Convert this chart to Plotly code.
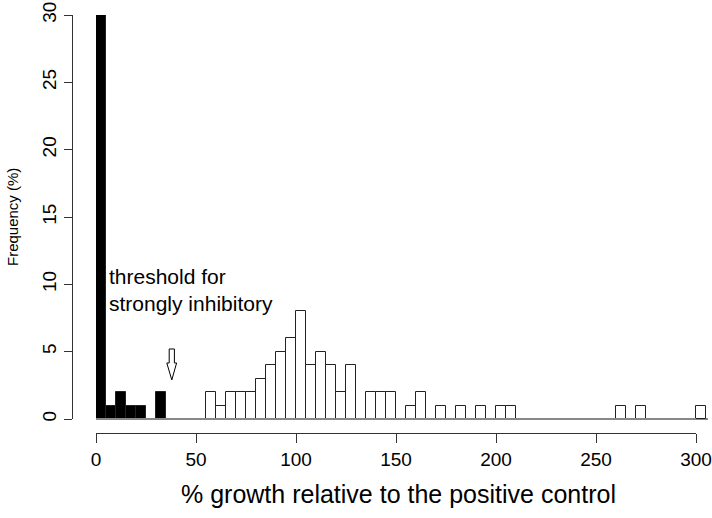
import plotly.graph_objects as go

# bin left edges (width 5) and frequencies (%)
bin_width = 5
inhib_edges = [0, 5, 10, 15, 20, 25, 30]
inhib_freq = [30, 1, 2, 1, 1, 0, 2]

other_edges = list(range(55, 305, 5))
other_freq = [2, 1, 2, 2, 2, 3, 4, 5, 6, 8,      # 55-100
              4, 5, 4, 2, 4, 0, 2, 2, 2, 0,      # 105-150
              1, 2, 0, 1, 0, 1, 0, 1, 0, 1,      # 155-200
              1, 0, 0, 0, 0, 0, 0, 0, 0, 0,      # 205-250
              0, 1, 0, 1, 0, 0, 0, 0, 0, 1]      # 255-300

x_ticks = [0, 50, 100, 150, 200, 250, 300]
y_ticks = [0, 5, 10, 15, 20, 25, 30]

FONT = "Liberation Sans Narrow, Arial Narrow, Liberation Sans, Arial, sans-serif"

fig = go.Figure()
fig.add_trace(go.Bar(
    x=[e + bin_width / 2 for e in inhib_edges], y=inhib_freq, width=bin_width,
    marker=dict(color="black", line=dict(color="#222", width=1)),
    showlegend=False, hoverinfo="skip"))
fig.add_trace(go.Bar(
    x=[e + bin_width / 2 for e in other_edges], y=other_freq, width=bin_width,
    marker=dict(color="white", line=dict(color="#222", width=1)),
    showlegend=False, hoverinfo="skip"))
# invisible trace to carry the separate bottom axis
fig.add_trace(go.Scatter(x=[0, 300], y=[0, 0], xaxis="x2", yaxis="y",
                         mode="markers", marker=dict(opacity=0),
                         showlegend=False, hoverinfo="skip"))

W = 640.0
H = 418.0
fig.update_layout(
    width=712, height=518,
    margin=dict(l=72, r=0, t=15, b=85, autoexpand=False),
    plot_bgcolor="rgba(0,0,0,0)", paper_bgcolor="white",
    bargap=0,
    font=dict(family=FONT, color="black"),
    xaxis=dict(domain=[24 / W, 636 / W], range=[0, 306],
               showline=False, showgrid=False, zeroline=False,
               showticklabels=False, ticks="", automargin=False),
    xaxis2=dict(domain=[24 / W, 624 / W], range=[0, 300], anchor="free",
                position=0, side="bottom",
                showline=True, linecolor="#333", linewidth=1,
                ticks="outside", ticklen=9, tickcolor="#333",
                tickvals=x_ticks, showgrid=False, zeroline=False,
                automargin=False, ticklabeloverflow="allow",
                tickfont=dict(size=19, family=FONT)),
    yaxis=dict(domain=[14 / H, 1], range=[0, 30], anchor="free", position=0,
               showline=True, linecolor="#333", linewidth=1,
               ticks="outside", ticklen=8, tickcolor="#333",
               tickvals=y_ticks, tickangle=-90, showgrid=False,
               zeroline=True, zerolinecolor="#888", zerolinewidth=2,
               automargin=False, ticklabeloverflow="allow",
               tickfont=dict(size=19, family=FONT)),
    annotations=[
        dict(x=5.5, y=11.6, xref="x", yref="y", text="threshold for<br>strongly inhibitory",
             showarrow=False, xanchor="left", yanchor="top", align="left",
             font=dict(size=21, family=FONT)),
        dict(x=(398 - 72) / W, y=-(494 - 433) / H, xref="paper", yref="paper",
             text="% growth relative to the positive control",
             showarrow=False, xanchor="center", yanchor="middle",
             font=dict(size=25, family=FONT)),
        dict(x=(12 - 72) / W, y=(433 - 217) / H, xref="paper", yref="paper",
             text="Frequency (%)",
             showarrow=False, textangle=-90, xanchor="center", yanchor="middle",
             font=dict(size=15, family=FONT)),
    ],
    shapes=[
        dict(type="path", xref="x", yref="y",
             path="M 36.6 5.2 L 39.2 5.2 L 39.2 4.16 L 40.3 4.16 L 37.9 2.9 "
                  "L 35.4 4.16 L 36.6 4.16 Z",
             line=dict(color="black", width=1), fillcolor="white"),
    ],
)

fig.write_html("out.html",
               config={"displayModeBar": False},
               post_script="document.body.style.margin='0';"
                           "document.body.style.overflow='hidden';")
